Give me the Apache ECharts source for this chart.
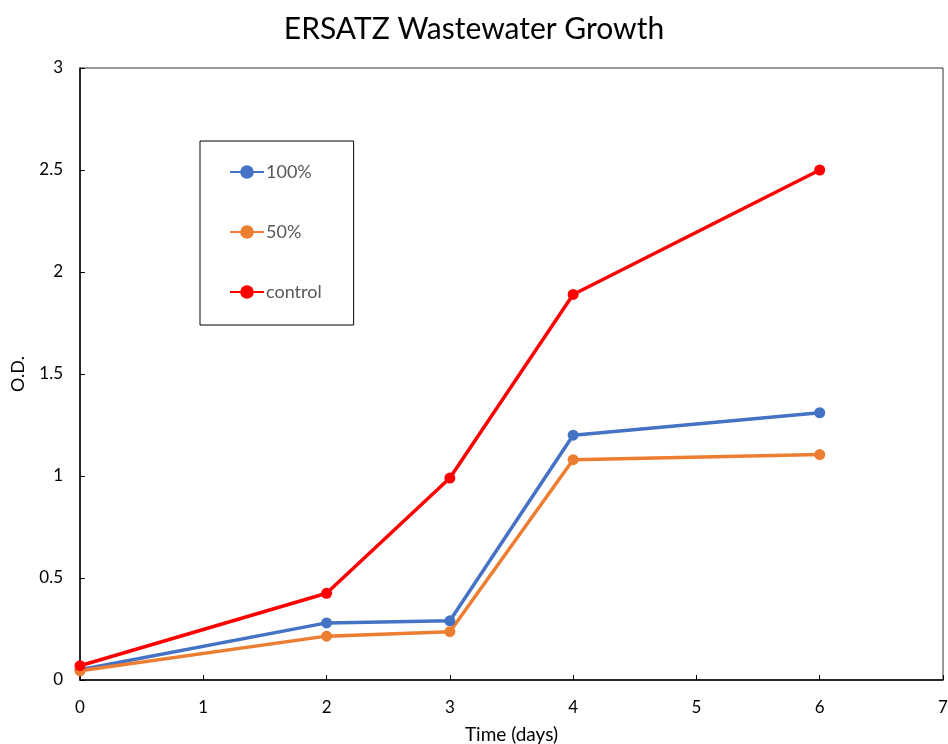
<!DOCTYPE html>
<html>
<head>
<meta charset="utf-8">
<script src="https://cdn.jsdelivr.net/npm/echarts@6/dist/echarts.min.js"></script>
<style>
  html, body { margin: 0; padding: 0; background: #fff; }
  #chart { width: 948px; height: 744px; }
</style>
</head>
<body>
<div id="chart"></div>
<script>
// Sampling days
const days = [0, 2, 3, 4, 6];

// Optical density readings per treatment
const od100 = [0.05, 0.28, 0.29, 1.20, 1.31];
const od50 = [0.045, 0.215, 0.237, 1.08, 1.105];
const odControl = [0.07, 0.425, 0.99, 1.89, 2.50];

const seriesNames = ['100%', '50%', 'control'];
const seriesColors = ['#4472C4', '#ED7D31', '#FF0000'];
const seriesValues = [od100, od50, odControl];

const font = 'Lato, "Open Sans", sans-serif';

const chart = echarts.init(document.getElementById('chart'));

chart.setOption({
  animation: false,
  backgroundColor: '#fff',
  title: {
    text: 'ERSATZ Wastewater Growth',
    left: 'center',
    top: 9,
    textStyle: { fontFamily: font, fontSize: 30, fontWeight: 'normal', color: '#000' }
  },
  grid: {
    left: 80, right: 5, top: 68, bottom: 64,
    outerBoundsMode: 'none',
    show: true,
    borderColor: '#333',
    borderWidth: 1
  },
  legend: {
    orient: 'vertical',
    left: 200,
    top: 141,
    padding: [22, 32, 24, 29],
    itemGap: 42,
    itemWidth: 34,
    itemHeight: 17,
    borderColor: '#000',
    borderWidth: 1,
    data: seriesNames,
    textStyle: { fontFamily: font, fontSize: 18, color: '#595959', padding: [0, 0, 0, -3] }
  },
  xAxis: {
    type: 'value',
    min: 0, max: 7, interval: 1,
    name: 'Time (days)',
    nameLocation: 'middle',
    nameGap: 45,
    nameTextStyle: { fontFamily: font, fontSize: 19, color: '#000' },
    axisLine: { show: true, lineStyle: { color: '#000', width: 1.5 } },
    axisTick: { show: true, inside: true, length: 5, lineStyle: { color: '#000' } },
    axisLabel: { fontFamily: font, fontSize: 17, color: '#000', margin: 19 },
    splitLine: { show: false }
  },
  yAxis: {
    type: 'value',
    min: 0, max: 3, interval: 0.5,
    name: 'O.D.',
    nameLocation: 'middle',
    nameGap: 53,
    nameRotate: 90,
    nameTextStyle: { fontFamily: font, fontSize: 18, color: '#000' },
    axisLine: { show: true, lineStyle: { color: '#000', width: 1.5 } },
    axisTick: { show: true, inside: true, length: 5, lineStyle: { color: '#000' } },
    axisLabel: { fontFamily: font, fontSize: 17, color: '#000', margin: 17 },
    splitLine: { show: false }
  },
  series: seriesNames.map((name, i) => ({
    name: name,
    type: 'line',
    data: days.map((d, j) => [d, seriesValues[i][j]]),
    symbol: 'circle',
    symbolSize: 11,
    lineStyle: { color: seriesColors[i], width: 3.5 },
    itemStyle: { color: seriesColors[i] }
  }))
});
</script>
</body>
</html>
